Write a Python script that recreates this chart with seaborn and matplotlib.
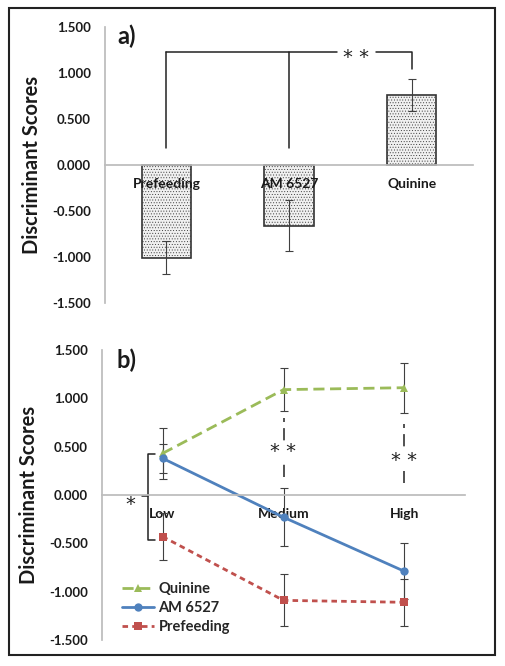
import numpy as np
import pandas as pd
import matplotlib
matplotlib.use("Agg")
import matplotlib.pyplot as plt
import seaborn as sns
from matplotlib.patches import Rectangle
from matplotlib.ticker import FuncFormatter

# ── Data ─────────────────────────────────────────────────────────────────────
groups_a = ["Prefeeding", "AM 6527", "Quinine"]
scores_a = [-1.01, -0.66, 0.76]
sem_a    = [0.18, 0.28, 0.17]

levels        = ["Low", "Medium", "High"]
series_b      = ["Quinine", "AM 6527", "Prefeeding"]
quinine_b     = [0.43, 1.09, 1.11]
quinine_se    = [0.26, 0.22, 0.26]
am6527_b      = [0.38, -0.23, -0.79]
am6527_se     = [0.15, 0.30, 0.29]
prefeeding_b  = [-0.43, -1.09, -1.11]
prefeeding_se = [0.24, 0.27, 0.24]

y_ticks = [-1.5, -1.0, -0.5, 0.0, 0.5, 1.0, 1.5]

colors = {"Quinine": "#9BBB59", "AM 6527": "#4F81BD", "Prefeeding": "#C0504D"}
AXIS_GRAY = "#bcbcbc"
TEXT_DARK = "#1a1a1a"

sns.set_theme(style="white")
plt.rcParams["font.family"] = ["Lato", "DejaVu Sans"]
plt.rcParams["font.weight"] = "bold"
plt.rcParams["hatch.linewidth"] = 0.35


def style_axis(ax, cats):
    ax.set_xlim(-0.5, len(cats) - 0.5)
    ax.set_ylim(-1.5, 1.5)
    ax.set_yticks(y_ticks)
    ax.yaxis.set_major_formatter(FuncFormatter(lambda v, _: f"{v:.3f}"))
    for s in ["top", "right"]:
        ax.spines[s].set_visible(False)
    ax.spines["left"].set_color(AXIS_GRAY)
    ax.spines["bottom"].set_color(AXIS_GRAY)
    ax.spines["bottom"].set_position(("data", 0))
    ax.tick_params(axis="y", direction="out", length=3.5, width=0.8,
                   color=AXIS_GRAY, pad=6.5, labelsize=9.5, labelcolor=TEXT_DARK)
    ax.set_xticks(range(len(cats)))
    ax.set_xticklabels(cats, fontweight="bold", fontsize=10, color=TEXT_DARK)
    ax.set_xticks([i + 0.5 for i in range(len(cats) - 1)], minor=True)
    ax.tick_params(axis="x", which="major", length=0, pad=9)
    ax.tick_params(axis="x", which="minor", direction="out", length=3.5,
                   width=0.8, color=AXIS_GRAY)
    ax.set_xlabel("")
    ax.set_ylabel("Discriminant Scores", fontsize=14.5, fontweight="bold", color=TEXT_DARK)


fig = plt.figure(figsize=(5.05, 6.66), dpi=100)
ax_a = fig.add_axes([105 / 505, 1 - 303 / 666, 368 / 505, 276 / 666])
ax_b = fig.add_axes([102 / 505, 1 - 640 / 666, 363 / 505, 290 / 666])

star_kw = dict(ha="center", va="center", fontsize=14, family="DejaVu Sans",
               fontweight="normal", color="#222222")

# ── Panel a: bars ────────────────────────────────────────────────────────────
sns.barplot(x=groups_a, y=scores_a, order=groups_a, color="#f0f0f0",
            edgecolor="#333333", linewidth=1.2, width=0.4, errorbar=None,
            saturation=1, ax=ax_a)
for p in ax_a.patches:
    p.set_hatch("......")
ax_a.errorbar(range(len(groups_a)), scores_a, yerr=sem_a, fmt="none",
              ecolor="#404040", elinewidth=0.8, capsize=3, capthick=0.8, zorder=3)
style_axis(ax_a, groups_a)
ax_a.set_axisbelow(False)
ax_a.yaxis.set_label_coords(-0.171, 0.5)

# significance bracket
BR_TOP, BR_FOOT_L, BR_FOOT_M, BR_FOOT_R = 1.23, 0.19, 0.18, 1.04
line_kw = dict(color="#222222", lw=1.1)
ax_a.plot([0, 0], [BR_FOOT_L, BR_TOP], **line_kw)
ax_a.plot([1, 1], [BR_FOOT_M, BR_TOP], **line_kw)
ax_a.plot([0, 1.39], [BR_TOP, BR_TOP], **line_kw)
ax_a.plot([1.71, 2, 2], [BR_TOP, BR_TOP, BR_FOOT_R], **line_kw)
ax_a.text(1.55, BR_TOP - 0.06, "* *", **star_kw)
ax_a.text(0.033, 0.967, "a)", transform=ax_a.transAxes, fontsize=17,
          fontweight="bold", va="center", ha="left", color=TEXT_DARK)

# ── Panel b: lines ───────────────────────────────────────────────────────────
df_b = pd.DataFrame({
    "Level": levels * 3,
    "Group": [g for g in series_b for _ in levels],
    "Score": quinine_b + am6527_b + prefeeding_b,
})
sns.lineplot(data=df_b, x="Level", y="Score", hue="Group", style="Group",
             hue_order=series_b, style_order=series_b, palette=colors,
             dashes={"Quinine": (4, 2), "AM 6527": "", "Prefeeding": (2, 1.5)},
             markers={"Quinine": "^", "AM 6527": "o", "Prefeeding": "s"},
             markersize=6, markeredgewidth=0, linewidth=2, sort=False, ax=ax_b)

se_b = {"Quinine": quinine_se, "AM 6527": am6527_se, "Prefeeding": prefeeding_se}
vals_b = {"Quinine": quinine_b, "AM 6527": am6527_b, "Prefeeding": prefeeding_b}
for g in series_b:
    ax_b.errorbar(range(len(levels)), vals_b[g], yerr=se_b[g], fmt="none",
                  ecolor="#404040", elinewidth=0.8, capsize=3, capthick=0.8, zorder=1)

style_axis(ax_b, levels)
ax_b.yaxis.set_label_coords(-0.174, 0.5)

handles, labels = ax_b.get_legend_handles_labels()
ax_b.legend(handles, labels, loc="upper left", bbox_to_anchor=(0.055, 0.2),
            frameon=False, prop={"weight": "bold", "size": 10.5},
            handlelength=2.2, handletextpad=0.3, labelspacing=0.35,
            borderpad=0, borderaxespad=0)

# significance marks
sig_b = [(1, 0.19, 0.80, 0.50), (2, 0.12, 0.73, 0.41)]
for x, lo, hi, mid in sig_b:
    ax_b.vlines(x, lo, hi, colors="#222222", lw=1.1, linestyles=(0, (8, 4)), zorder=2)
    ax_b.text(x, mid - 0.05, "* *", zorder=4,
              bbox=dict(facecolor="white", edgecolor="none", pad=1), **star_kw)

# brace at Low
BX, BX_END, BX_NOTCH = -0.12, -0.065, -0.17
BR_HI, BR_LO, BR_MID = 0.42, -0.47, -0.01
ax_b.plot([BX_END, BX, BX, BX_END], [BR_HI, BR_HI, BR_LO, BR_LO], **line_kw)
ax_b.plot([BX, BX_NOTCH], [BR_MID, BR_MID], **line_kw)
ax_b.text(-0.27, BR_MID - 0.09, "*", **star_kw)
ax_b.text(0.041, 0.966, "b)", transform=ax_b.transAxes, fontsize=17,
          fontweight="bold", va="center", ha="left", color=TEXT_DARK)

# outer frame
fig.patches.append(Rectangle((9 / 505, 11 / 666), 486 / 505, 647 / 666,
                             transform=fig.transFigure, fill=False,
                             lw=1.5, ec="#222222"))

fig.savefig("out.png", dpi=100)
